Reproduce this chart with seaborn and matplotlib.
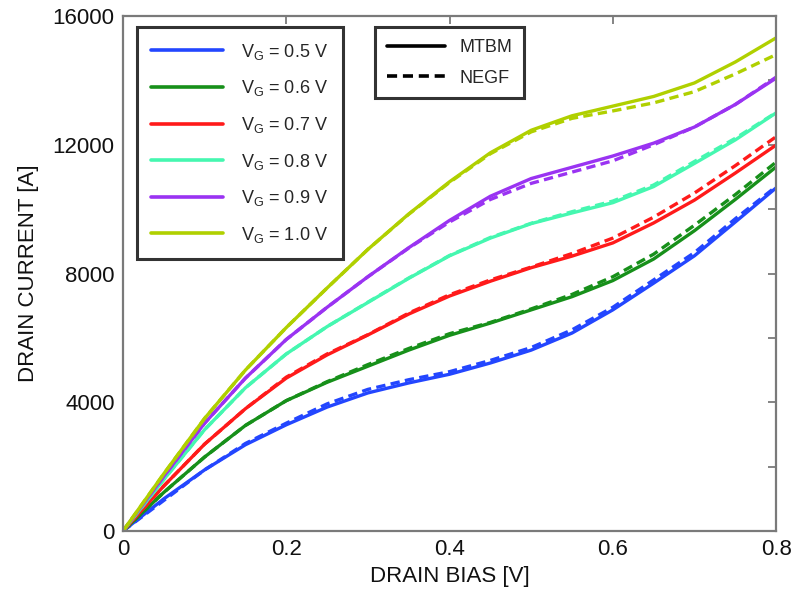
import numpy as np
import pandas as pd
import matplotlib
matplotlib.use("Agg")
import matplotlib.pyplot as plt
from matplotlib.lines import Line2D
import seaborn as sns

# ---------------- data ----------------
drain_bias = [0.0, 0.05, 0.1, 0.15, 0.2, 0.25, 0.3, 0.35, 0.4, 0.45,
              0.5, 0.55, 0.6, 0.65, 0.7, 0.75, 0.8]

gate_labels = ["0.5", "0.6", "0.7", "0.8", "0.9", "1.0"]

mtbm_05 = [0, 1000, 1900, 2680, 3300, 3850, 4290, 4600, 4870, 5220,
           5620, 6150, 6870, 7700, 8550, 9600, 10660]
mtbm_06 = [0, 1200, 2300, 3280, 4050, 4620, 5120, 5620, 6080, 6460,
           6870, 7280, 7780, 8450, 9330, 10300, 11310]
mtbm_07 = [0, 1400, 2700, 3800, 4750, 5470, 6090, 6740, 7300, 7760,
           8180, 8540, 8950, 9570, 10280, 11120, 11990]
mtbm_08 = [0, 1600, 3150, 4450, 5500, 6350, 7100, 7850, 8550, 9100,
           9550, 9880, 10200, 10700, 11420, 12150, 12990]
mtbm_09 = [0, 1700, 3350, 4750, 5950, 6950, 7900, 8800, 9650, 10400,
           10950, 11300, 11650, 12050, 12550, 13250, 14070]
mtbm_10 = [0, 1780, 3500, 5000, 6320, 7550, 8750, 9850, 10850, 11750,
           12450, 12900, 13200, 13500, 13920, 14570, 15320]

negf_05 = [0, 950, 1900, 2720, 3350, 3950, 4400, 4700, 4950, 5300,
           5700, 6250, 6950, 7800, 8650, 9700, 10700]
negf_06 = [0, 1200, 2300, 3280, 4050, 4640, 5170, 5670, 6130, 6480,
           6900, 7350, 7900, 8600, 9500, 10450, 11460]
negf_07 = [0, 1400, 2700, 3800, 4780, 5500, 6100, 6770, 7340, 7800,
           8200, 8620, 9100, 9750, 10500, 11350, 12250]
negf_08 = [0, 1600, 3150, 4450, 5500, 6350, 7110, 7860, 8560, 9120,
           9560, 9920, 10250, 10750, 11480, 12200, 13000]
negf_09 = [0, 1700, 3350, 4750, 5950, 6950, 7900, 8790, 9600, 10300,
           10800, 11150, 11500, 12000, 12550, 13250, 14100]
negf_10 = [0, 1780, 3500, 5000, 6320, 7550, 8750, 9840, 10830, 11720,
           12400, 12820, 13050, 13300, 13650, 14200, 14800]

models = ["MTBM", "NEGF"]
x_ticks = [0, 0.2, 0.4, 0.6, 0.8]
x_tick_labels = ["0", "0.2", "0.4", "0.6", "0.8"]
y_ticks = [0, 4000, 8000, 12000, 16000]

colors = ["#2346ff", "#17901a", "#ff1a1a", "#45f7b0", "#9a33f2", "#b0d000"]

# --------------- long-form table ---------------
mtbm = [mtbm_05, mtbm_06, mtbm_07, mtbm_08, mtbm_09, mtbm_10]
negf = [negf_05, negf_06, negf_07, negf_08, negf_09, negf_10]
rows = []
for g, ys in zip(gate_labels, mtbm):
    for xv, yv in zip(drain_bias, ys):
        rows.append({"bias": xv, "current": yv, "VG": g, "model": "MTBM"})
for g, ys in zip(gate_labels, negf):
    for xv, yv in zip(drain_bias, ys):
        rows.append({"bias": xv, "current": yv, "VG": g, "model": "NEGF"})
df = pd.DataFrame(rows)

# --------------- style ---------------
sns.set_style("white")
plt.rcParams["font.family"] = ["Liberation Sans", "DejaVu Sans"]
plt.rcParams["mathtext.fontset"] = "custom"
plt.rcParams["mathtext.rm"] = "Liberation Sans"
plt.rcParams["mathtext.default"] = "regular"

fig = plt.figure(figsize=(7.96, 5.92), dpi=100)
ax = fig.add_axes([0.1545, 0.103, 0.8205, 0.870])

palette = dict(zip(gate_labels, colors))
sns.lineplot(data=df, x="bias", y="current", hue="VG", style="model",
             palette=palette, hue_order=gate_labels, style_order=models,
             dashes={"MTBM": "", "NEGF": (2.8, 1.6)},
             linewidth=2.4, estimator=None, sort=False, legend=False, ax=ax)

ax.set_xlim(0, 0.8)
ax.set_ylim(0, 16000)
ax.set_xticks(x_ticks)
ax.set_xticklabels(x_tick_labels)
ax.set_yticks(y_ticks)
ax.set_yticklabels([str(v) for v in y_ticks])
ax.set_yticks(np.arange(0, 16001, 2000), minor=True)
ax.tick_params(axis="both", which="both", direction="in", colors="#707070",
               labelcolor="#111111", top=True, right=True, length=6, width=1.2,
               labelsize=16, pad=6)

for sp in ax.spines.values():
    sp.set_color("#7a7a7a")
    sp.set_linewidth(1.6)

ax.set_xlabel("DRAIN BIAS [V]", fontsize=16, color="#111111", labelpad=4)
ax.set_ylabel("DRAIN CURRENT [A]", fontsize=16, color="#111111", labelpad=10)

# legend 1: gate voltages
h1 = [Line2D([0], [0], color=c, lw=2.6) for c in colors]
l1 = [r"V$_{G}$ = %s V" % g for g in gate_labels]
leg1 = ax.legend(h1, l1, loc="upper left", bbox_to_anchor=(0.021, 0.978),
                 fontsize=13, frameon=True, fancybox=False, handlelength=4.0,
                 labelspacing=0.92, borderpad=0.8, handletextpad=1.0,
                 borderaxespad=0)
leg1.get_frame().set_edgecolor("black")
leg1.get_frame().set_linewidth(2.2)
ax.add_artist(leg1)

# legend 2: models
h2 = [Line2D([0], [0], color="black", lw=2.6, linestyle="-"),
      Line2D([0], [0], color="black", lw=2.6, linestyle=(0, (2.8, 1.6)))]
leg2 = ax.legend(h2, models, loc="upper left", bbox_to_anchor=(0.386, 0.978),
                 fontsize=13, frameon=True, fancybox=False, handlelength=3.2,
                 labelspacing=0.75, borderpad=0.65, handletextpad=0.8,
                 borderaxespad=0)
leg2.get_frame().set_edgecolor("black")
leg2.get_frame().set_linewidth(2.2)

fig.savefig("out.png", dpi=100)
